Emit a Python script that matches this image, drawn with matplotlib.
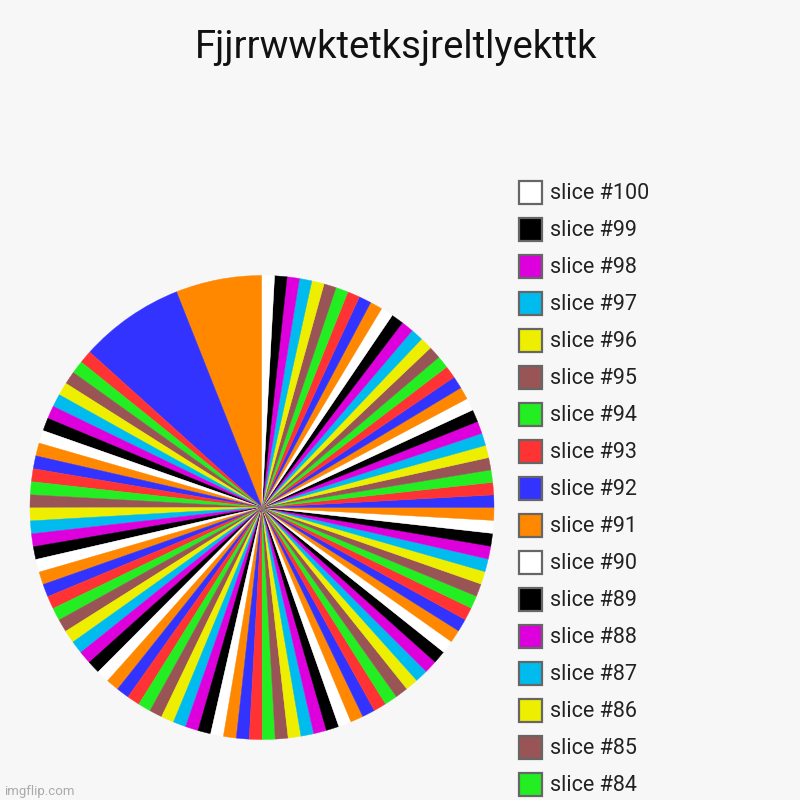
import matplotlib
matplotlib.use("Agg")
import matplotlib.pyplot as plt
from matplotlib.patches import Rectangle

plt.rcParams['font.family'] = ['Roboto', 'DejaVu Sans']

title = "Fjjrrwwktetksjreltlyekttk"

# slice labels, #1 .. #100
labels = ["slice #%d" % n for n in range(1, 101)]

# slice sizes (degrees of arc)
big_values = [21.6, 26.3]                       # slice #1, #2
upper_left = [3.24] * 13                        # slice #3 .. #15
lower_left = [3.21] * 28                        # slice #16 .. #43
lower_right = [3.21] * 28                       # slice #44 .. #71
upper_right = [3.10] * 29                       # slice #72 .. #100
values = big_values + upper_left + lower_left + lower_right + upper_right

palette = ['#ff8800', '#3333ff', '#ff3333', '#22ee22', '#995555',
           '#eeee00', '#00bbee', '#dd00dd', '#000000', '#ffffff']
colors = [palette[i % len(palette)] for i in range(len(values))]

bg = '#f7f7f7'
fig = plt.figure(figsize=(8, 8), dpi=100)
fig.patch.set_facecolor(bg)

# pie: centre at (262, 507.5) px, radius 232 px
ax = fig.add_axes([30 / 800, (800 - 507.5 - 232) / 800, 464 / 800, 464 / 800])
wedges, _ = ax.pie(values, colors=colors, startangle=90, counterclock=True,
                   radius=1, wedgeprops=dict(linewidth=0.3))
for w, c in zip(wedges, colors):
    w.set_edgecolor(c)
ax.set_xlim(-1, 1)
ax.set_ylim(-1, 1)
ax.set_aspect('equal')
ax.axis('off')

# overlay in pixel coordinates for title, legend and watermark
over = fig.add_axes([0, 0, 1, 1])
over.set_xlim(0, 800)
over.set_ylim(800, 0)
over.axis('off')
over.patch.set_alpha(0)

over.text(396, 47, title, fontsize=27.5, ha='center', va='center', color='#111111')

# legend, last slice first, clipped by the figure bottom
for i, n in enumerate(range(99, 82, -1)):
    y = 192 + 37 * i
    over.add_patch(Rectangle((519, y - 11.5), 23, 23, facecolor=colors[n],
                             edgecolor='#666666', linewidth=1.6))
    over.text(550, y + 1.5, labels[n], fontsize=15.5, ha='left', va='center',
              color='#222222')

over.text(4, 791, "imgflip.com", fontsize=9.5, ha='left', va='center',
          color='#aaaaaa')

fig.savefig("out.png", dpi=100, facecolor=bg)
